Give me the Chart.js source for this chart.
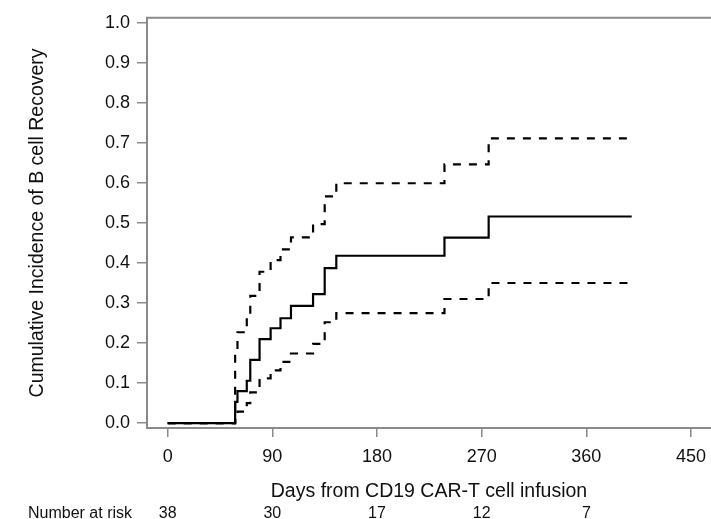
<!DOCTYPE html>
<html lang="en">
<head>
  <meta charset="UTF-8">
  <title>Cumulative incidence of B cell recovery</title>
  <script src="https://cdn.jsdelivr.net/npm/chart.js"></script>
  <style>
    body { margin: 0; background: #fff; }
    #box { width: 711px; height: 519px; }
  </style>
</head>
<body>
  <div id="box"><canvas id="chartCif"></canvas></div>
<script>
  // values
  const eventDays = [0, 58, 60, 68, 71, 79, 88.5, 97, 106, 125, 135, 145, 238, 276, 399];
  const incidence = [0, 0.053, 0.08, 0.106, 0.158, 0.21, 0.237, 0.262, 0.293, 0.322, 0.387, 0.418, 0.463, 0.516, 0.516];
  const upperCI = [0, 0.174, 0.227, 0.27, 0.318, 0.378, 0.407, 0.434, 0.464, 0.497, 0.566, 0.599, 0.646, 0.711, 0.711];
  const lowerCI = [0, 0.01, 0.029, 0.05, 0.077, 0.112, 0.132, 0.153, 0.174, 0.198, 0.252, 0.275, 0.31, 0.35, 0.35];

  const xTicks = [0, 90, 180, 270, 360, 450];
  const yTicks = [0, 0.1, 0.2, 0.3, 0.4, 0.5, 0.6, 0.7, 0.8, 0.9, 1.0];
  const riskDays = [0, 90, 180, 270, 360];
  const atRisk = [38, 30, 17, 12, 7];

  const FONT = "'Liberation Sans', Arial, sans-serif";
  const AXIS = '#8a8a8a';
  const TXT = '#111';
  const X_MIN = -17.8, X_MAX = 467.2;

  function toPoints(ys) {
    return eventDays.map((d, i) => ({ x: d, y: ys[i] }));
  }

  // top frame line + "Number at risk" caption
  const extras = {
    id: 'extras',
    afterDraw(chart) {
      const c = chart.ctx, a = chart.chartArea;
      c.save();
      c.strokeStyle = AXIS;
      c.lineWidth = 2;
      c.beginPath();
      c.moveTo(a.left - 1, a.top);
      c.lineTo(a.right, a.top);
      c.stroke();
      const x2 = chart.scales.x2;
      c.fillStyle = TXT;
      c.font = '16px ' + FONT;
      c.textAlign = 'left';
      c.textBaseline = 'middle';
      c.fillText('Number at risk', 28, x2.top + 11);
      c.restore();
    }
  };

  const line = (ys, dashed) => ({
    data: toPoints(ys),
    stepped: 'before',
    borderColor: '#000',
    borderWidth: 2.2,
    borderDash: dashed ? [8, 8] : [],
    borderCapStyle: 'butt',
    pointRadius: 0,
    fill: false
  });

  // keep the plot running to the right edge, as in the source figure
  function noSidePad(s, h) {
    s.height = h;
    s.paddingLeft = 0;
    s.paddingRight = 0;
  }

  new Chart(document.getElementById('chartCif'), {
    type: 'line',
    data: {
      datasets: [line(upperCI, true), line(lowerCI, true), line(incidence, false)]
    },
    options: {
      responsive: true,
      maintainAspectRatio: false,
      animation: false,
      layout: { padding: 0 },
      plugins: { legend: { display: false }, tooltip: { enabled: false } },
      scales: {
        x: {
          type: 'linear',
          position: 'bottom',
          weight: 0,
          min: X_MIN,
          max: X_MAX,
          afterBuildTicks: s => { s.ticks = xTicks.map(v => ({ value: v })); },
          afterFit: s => noSidePad(s, 75),
          ticks: { color: TXT, font: { family: FONT, size: 18 }, padding: 9, maxRotation: 0 },
          grid: { drawOnChartArea: false, color: AXIS, tickLength: 9, lineWidth: 1.5 },
          border: { color: AXIS, width: 2 },
          title: {
            display: true,
            text: 'Days from CD19 CAR-T cell infusion',
            color: TXT,
            font: { family: FONT, size: 19.5 },
            padding: 0
          }
        },
        x2: {
          type: 'linear',
          position: 'bottom',
          weight: 1,
          min: X_MIN,
          max: X_MAX,
          afterBuildTicks: s => { s.ticks = riskDays.map(v => ({ value: v })); },
          afterFit: s => noSidePad(s, 16),
          ticks: {
            color: TXT,
            font: { family: FONT, size: 16 },
            padding: 1,
            maxRotation: 0,
            callback: (v, i) => atRisk[i]
          },
          grid: { display: false, drawTicks: false },
          border: { display: false }
        },
        y: {
          min: -0.012,
          max: 1.012,
          afterBuildTicks: s => { s.ticks = yTicks.map(v => ({ value: v })); },
          afterFit: s => { s.width = 147; },
          ticks: {
            color: TXT,
            font: { family: FONT, size: 18 },
            padding: 7,
            callback: v => v.toFixed(1)
          },
          grid: { drawOnChartArea: false, color: AXIS, tickLength: 10, lineWidth: 1.5 },
          border: { color: AXIS, width: 2 },
          title: {
            display: true,
            text: 'Cumulative Incidence of B cell Recovery',
            color: TXT,
            font: { family: FONT, size: 19.5 },
            padding: { top: 26, bottom: 0 }
          }
        }
      }
    },
    plugins: [extras]
  });
</script>
</body>
</html>
